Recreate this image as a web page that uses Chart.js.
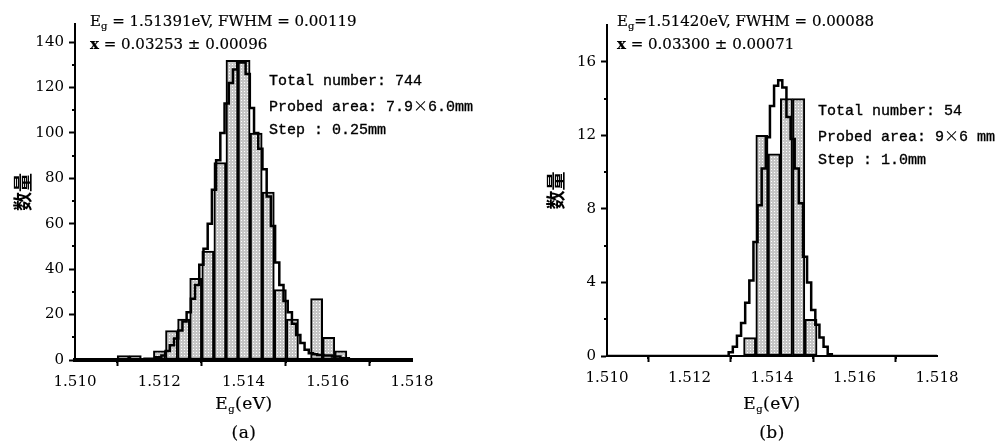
<!DOCTYPE html>
<html>
<head>
<meta charset="utf-8">
<script src="https://cdn.jsdelivr.net/npm/chart.js@4.4.1/dist/chart.umd.min.js"></script>
<style>
  html, body { margin: 0; padding: 0; background: #fff; }
  #wrap { position: relative; width: 1005px; height: 446px; overflow: hidden; background: #fff; }
  canvas { position: absolute; top: 0; }
  .t { position: absolute; white-space: nowrap; color: #000; }
  .hdr { font-family: "DejaVu Serif", serif; font-size: 15px; line-height: 18px; -webkit-text-stroke: 0.2px #000; }
  .hdr sub, .ttl sub { font-size: 10px; vertical-align: -3px; line-height: 0; }
  .info { font-family: "Liberation Mono", monospace; font-size: 15px; line-height: 23px; -webkit-text-stroke: 0.35px #000; }
  .fw { font-family: "Noto Sans CJK SC", sans-serif; -webkit-text-stroke: 0; }
  .ttl { font-family: "DejaVu Serif", serif; font-size: 17px; line-height: 20px; text-align: center; width: 200px; letter-spacing: 0.5px; -webkit-text-stroke: 0.2px #000; }
</style>
</head>
<body>
<div id="wrap">
  <canvas id="cA" width="500" height="446" style="left:0;width:500px;height:446px"></canvas>
  <canvas id="cB" width="505" height="446" style="left:500px;width:505px;height:446px"></canvas>

  <div class="t hdr" style="left:90px;top:12px">E<sub>g</sub> = 1.51391eV, FWHM = 0.00119</div>
  <div class="t hdr" style="left:90px;top:35px"><b>x</b> = 0.03253 ± 0.00096</div>
  <div class="t info" style="left:269px;top:70px">Total number: 744<br>Probed area: 7.9<span class="fw">×</span>6.0mm<br>Step : 0.25mm</div>
  <div class="t ttl" style="left:144px;top:393px">E<sub>g</sub>(eV)</div>
  <div class="t ttl" style="left:144px;top:422px">(a)</div>

  <div class="t hdr" style="left:617px;top:12px">E<sub>g</sub>=1.51420eV, FWHM = 0.00088</div>
  <div class="t hdr" style="left:617px;top:35px"><b>x</b> = 0.03300 ± 0.00071</div>
  <div class="t info" style="left:818px;top:100px">Total number: 54<br>Probed area: 9<span class="fw">×</span>6 mm<br>Step : 1.0mm</div>
  <div class="t ttl" style="left:672px;top:393px">E<sub>g</sub>(eV)</div>
  <div class="t ttl" style="left:672px;top:422px">(b)</div>
</div>
<script>
// ---------------- data ----------------
// (a) histogram bins: bin centres (eV) and counts
const A_BIN_E = [1.511144, 1.511431, 1.511718, 1.512005, 1.512292, 1.512579, 1.512866, 1.513153, 1.513440, 1.513727,
                 1.514014, 1.514301, 1.514588, 1.514875, 1.515162, 1.515449, 1.515736, 1.516023, 1.516310];
const A_COUNTS = [2, 2, 0, 4, 13, 18, 36, 48, 87, 132, 132, 100, 74, 31, 18, 0, 27, 10, 4];

// (a) fitted distribution (stepped outline)
const A_FIT_E = [1.5100, 1.5115, 1.5118, 1.5120, 1.5121, 1.5122, 1.5123, 1.5124, 1.5125, 1.5126, 1.5127, 1.5128,
                 1.5129, 1.5130, 1.5131, 1.5132, 1.5133, 1.5134, 1.5135, 1.5136, 1.5137, 1.5138, 1.5139, 1.5140,
                 1.5141, 1.5142, 1.5143, 1.5144, 1.5145, 1.5146, 1.5147, 1.5148, 1.5149, 1.5150, 1.5151, 1.5152,
                 1.5153, 1.5154, 1.5155, 1.5156, 1.5157, 1.5158, 1.5160, 1.5162, 1.5164, 1.5166, 1.5168, 1.5180];
const A_FIT_N = [0, 0, 0.5, 1.2, 2, 4, 6.5, 9.5, 13, 17, 21, 27,
                 33, 42, 49, 60, 75, 88, 100, 113, 122, 128, 131, 131,
                 126, 111, 100, 93, 84, 72, 59, 43, 33, 26, 21, 16,
                 11, 7.5, 4.5, 3, 2.5, 2.2, 2, 1.5, 0.8, 0.3, 0, 0];

// (b) histogram bins
const B_BIN_E = [1.513459, 1.513756, 1.514053, 1.514350, 1.514647, 1.514944];
const B_COUNTS = [1, 12, 11, 14, 14, 2];

// (b) fitted distribution
const B_FIT_E = [1.5100, 1.5129, 1.5130, 1.5131, 1.5132, 1.5133, 1.5134, 1.5135, 1.5136, 1.5137, 1.5138, 1.5139,
                 1.5140, 1.5141, 1.5142, 1.5143, 1.5144, 1.5145, 1.5146, 1.5147, 1.5148, 1.5149, 1.5150, 1.5151,
                 1.5152, 1.5153, 1.5154, 1.5155, 1.5180];
const B_FIT_N = [0, 0, 0.2, 0.5, 1.1, 1.8, 2.9, 4.1, 6.2, 8.2, 10.2, 11.9,
                 13.6, 14.7, 15.0, 14.6, 13.0, 11.8, 10.2, 8.3, 5.4, 4.0, 2.5, 1.7,
                 1.0, 0.5, 0.1, 0, 0];

// axes
const X_MIN = 1.510, X_MAX = 1.518, X_STEP = 0.002;
const X_MINOR = [1.511, 1.513, 1.515, 1.517];
const A_Y_MAX = 148, A_Y_STEP = 20;
const A_Y_MINOR = [10, 30, 50, 70, 90, 110, 130];
const B_Y_MAX = 18, B_Y_STEP = 4;
const B_Y_MINOR = [2, 6, 10, 14];
const Y_TITLE = '数量';

// ---------------- drawing ----------------
function makePattern(ctx) {
  const pc = document.createElement('canvas');
  pc.width = 3; pc.height = 3;
  const g = pc.getContext('2d');
  g.fillStyle = '#c6c6c6'; g.fillRect(0, 0, 3, 3);
  g.fillStyle = '#ffffff'; g.fillRect(1, 1, 1, 1);
  return ctx.createPattern(pc, 'repeat');
}

const minorTicks = {
  id: 'minorTicks',
  afterDraw(chart, args, opts) {
    const { ctx, chartArea, scales } = chart;
    ctx.save();
    ctx.strokeStyle = '#000';
    ctx.lineWidth = 2;
    for (const v of opts.x) {
      const px = Math.round(scales.x.getPixelForValue(v));
      ctx.beginPath(); ctx.moveTo(px, chartArea.bottom); ctx.lineTo(px, chartArea.bottom + opts.len); ctx.stroke();
    }
    for (const v of opts.y) {
      const py = Math.round(scales.y.getPixelForValue(v));
      ctx.beginPath(); ctx.moveTo(chartArea.left, py); ctx.lineTo(chartArea.left - opts.len, py); ctx.stroke();
    }
    ctx.restore();
  }
};

const TICK_FONT = { family: '"DejaVu Serif", serif', size: 15 };

function build(canvasId, binE, counts, fitE, fitN, yMax, yStep, yMinor, pad, xBorder, yTitlePad) {
  const cv = document.getElementById(canvasId);
  const ctx = cv.getContext('2d');
  const pattern = makePattern(ctx);
  return new Chart(ctx, {
    type: 'bar',
    data: {
      datasets: [
        {
          type: 'line',
          data: fitE.map((e, i) => ({ x: e, y: fitN[i] })),
          borderColor: '#000',
          borderWidth: 2.5,
          stepped: 'middle',
          pointRadius: 0,
          fill: false,
          order: 0
        },
        {
          type: 'bar',
          data: binE.map((e, i) => ({ x: e, y: counts[i] })),
          backgroundColor: pattern,
          borderColor: '#000',
          borderWidth: 2,
          borderSkipped: false,
          barPercentage: 1,
          categoryPercentage: 1,
          grouped: false,
          order: 1
        }
      ]
    },
    options: {
      responsive: false,
      animation: false,
      events: [],
      layout: { padding: pad },
      plugins: {
        legend: { display: false },
        tooltip: { enabled: false },
        minorTicks: { x: X_MINOR, y: yMinor, len: 3 }
      },
      scales: {
        x: {
          type: 'linear',
          min: X_MIN, max: X_MAX,
          offset: false,
          afterFit: s => { s.height = 30; },
          grid: { drawOnChartArea: false, drawTicks: true, tickLength: 6, tickColor: '#000', tickWidth: 2 },
          border: { display: true, color: '#000', width: xBorder },
          ticks: {
            stepSize: X_STEP, color: '#000', font: TICK_FONT, padding: 7,
            maxRotation: 0, autoSkip: false, includeBounds: false,
            callback: v => Number(v).toFixed(3)
          }
        },
        y: {
          min: 0, max: yMax,
          afterFit: s => { s.width = 75; },
          grid: { drawOnChartArea: false, drawTicks: true, tickLength: 6, tickColor: '#000', tickWidth: 2 },
          border: { display: true, color: '#000', width: 2 },
          ticks: {
            stepSize: yStep, color: '#000', font: TICK_FONT, padding: 5,
            includeBounds: false, autoSkip: false
          },
          title: {
            display: true, text: Y_TITLE, color: '#000',
            font: { family: '"Noto Sans CJK SC", sans-serif', size: 19, weight: 'bold' },
            padding: { top: yTitlePad, bottom: 0 }
          }
        }
      }
    },
    plugins: [minorTicks]
  });
}

build('cA', A_BIN_E, A_COUNTS, A_FIT_E, A_FIT_N, A_Y_MAX, A_Y_STEP, A_Y_MINOR,
      { left: 0, right: 88, top: 24, bottom: 56 }, 4, 11);
build('cB', B_BIN_E, B_COUNTS, B_FIT_E, B_FIT_N, B_Y_MAX, B_Y_STEP, B_Y_MINOR,
      { left: 32, right: 68, top: 25, bottom: 60 }, 2, 12);
</script>
</body>
</html>
